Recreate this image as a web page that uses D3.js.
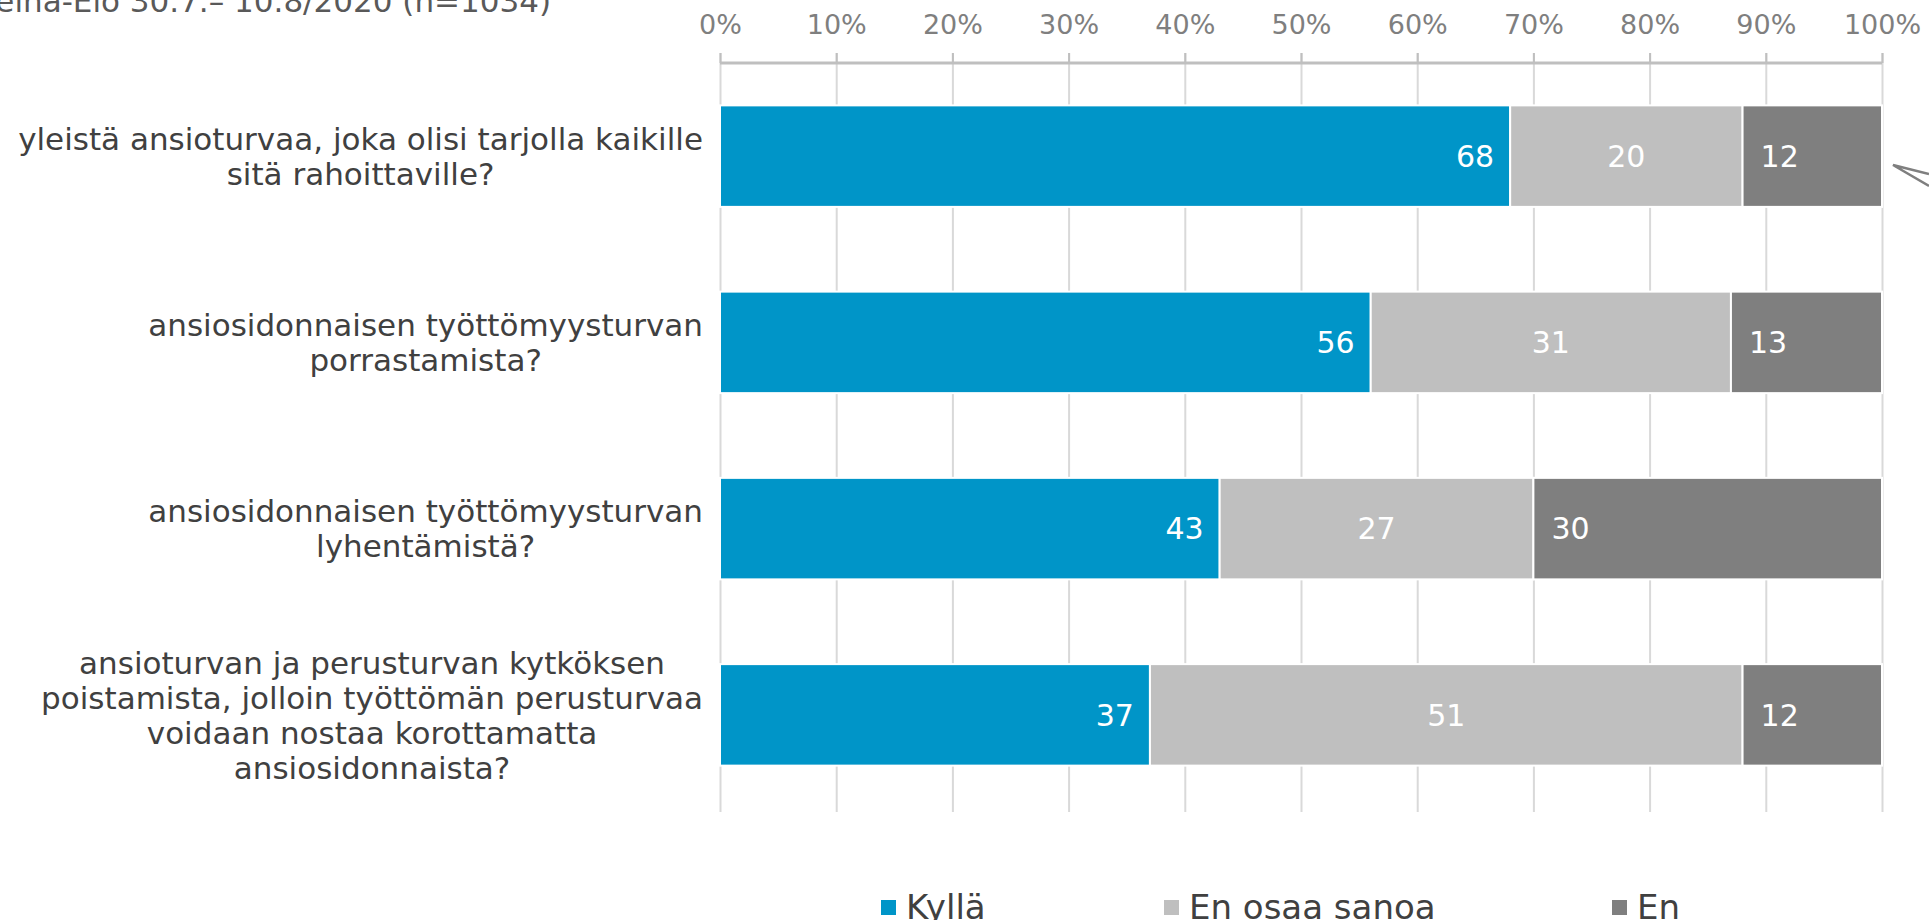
<!DOCTYPE html>
<html>
<head>
<meta charset="utf-8">
<script src="https://cdn.jsdelivr.net/npm/d3@7"></script>
<style>
  html, body { margin: 0; padding: 0; background: #fff; overflow: hidden; }
  svg text { font-family: "DejaVu Sans", Verdana, sans-serif; }
</style>
</head>
<body>
<svg id="chart"></svg>
<script>
// Survey answers, percentages per question
const categories = [
  ['yleistä ansioturvaa, joka olisi tarjolla kaikille', 'sitä rahoittaville?'],
  ['ansiosidonnaisen työttömyysturvan', 'porrastamista?'],
  ['ansiosidonnaisen työttömyysturvan', 'lyhentämistä?'],
  ['ansioturvan ja perusturvan kytköksen', 'poistamista, jolloin työttömän perusturvaa', 'voidaan nostaa korottamatta', 'ansiosidonnaista?']
];
const seriesNames = ['Kyllä', 'En osaa sanoa', 'En'];
const kyllaValues = [68, 56, 43, 37];
const enOsaaValues = [20, 31, 27, 51];
const enValues = [12, 13, 30, 12];
const tickValues = [0, 10, 20, 30, 40, 50, 60, 70, 80, 90, 100];
const subtitle = 'Heinä-Elo 30.7.– 10.8/2020 (n=1034)';

class StackedBarChart {

  constructor(_config) {
    this.config = {
      parentElement: _config.parentElement,
      containerWidth: _config.containerWidth || 1929,
      containerHeight: _config.containerHeight || 920,
      margin: { top: 63, bottom: 112, right: 47, left: 720 }
    };
    this.data = categories.map((c, i) => ({
      idx: i,
      lines: c,
      'Kyllä': kyllaValues[i],
      'En osaa sanoa': enOsaaValues[i],
      'En': enValues[i]
    }));
    this.initVis();
  }

  initVis() {
    let vis = this;

    vis.width = vis.config.containerWidth - vis.config.margin.left - vis.config.margin.right;
    vis.height = vis.config.containerHeight - vis.config.margin.top - vis.config.margin.bottom;

    vis.xScale = d3.scaleLinear()
        .domain([0, 100])
        .range([0, vis.width]);

    vis.yScale = d3.scaleBand()
        .domain(vis.data.map(d => d.idx))
        .range([0, vis.height])
        .paddingInner(0.455)
        .paddingOuter(0.2275);

    vis.color = d3.scaleOrdinal()
        .domain(seriesNames)
        .range(['#0095c8', '#bfbfbf', '#7f7f7f']);

    vis.svg = d3.select(vis.config.parentElement)
        .attr('width', vis.config.containerWidth)
        .attr('height', vis.config.containerHeight);

    vis.chart = vis.svg.append('g')
        .attr('transform', `translate(${vis.config.margin.left},${vis.config.margin.top})`);

    // gridlines
    vis.gridG = vis.chart.append('g')
        .attr('class', 'grid')
        .attr('transform', 'translate(0,-10)');

    // small tick marks above the axis line
    vis.tickG = vis.chart.append('g')
        .attr('class', 'ticks');

    vis.xAxisG = vis.chart.append('g')
        .attr('class', 'axis x-axis')
        .attr('transform', 'translate(0,-26)');

    vis.stack = d3.stack().keys(seriesNames);

    // subtitle, partly cut off at the top
    vis.svg.append('text')
        .attr('x', 551)
        .attr('y', 12)
        .attr('text-anchor', 'end')
        .attr('font-size', 31)
        .attr('fill', '#595959')
        .text(subtitle);

    // callout pointer at the right edge
    vis.svg.append('path')
        .attr('d', 'M1929,174 L1893,165 L1929,186')
        .attr('fill', '#fff')
        .attr('stroke', '#7f7f7f')
        .attr('stroke-width', 2.5);

    // legend
    vis.legendX = [881, 1164, 1612];
    vis.legend = vis.svg.selectAll('.legend')
        .data(seriesNames)
      .join('g')
        .attr('class', 'legend')
        .attr('transform', (d, i) => `translate(${vis.legendX[i]},907)`);
    vis.legend.append('rect')
        .attr('x', 0)
        .attr('y', -7)
        .attr('width', 15)
        .attr('height', 15)
        .attr('fill', d => vis.color(d));
    vis.legend.append('text')
        .attr('x', 25)
        .attr('y', 12)
        .attr('font-size', 34)
        .attr('fill', '#404040')
        .text(d => d);

    vis.updateVis();
  }

  updateVis() {
    let vis = this;
    vis.stackedData = vis.stack(vis.data);
    vis.renderVis();
  }

  renderVis() {
    let vis = this;

    vis.gridG.call(d3.axisBottom(vis.xScale)
        .tickValues(tickValues)
        .tickSize(vis.height + 14)
        .tickFormat(''))
      .call(g => g.select('.domain').remove())
      .call(g => g.selectAll('line').attr('stroke', '#d9d9d9').attr('stroke-width', 2));

    vis.tickG.call(d3.axisTop(vis.xScale)
        .tickValues(tickValues)
        .tickSize(10)
        .tickFormat(''))
      .call(g => g.selectAll('line').attr('stroke', '#bfbfbf').attr('stroke-width', 2))
      .call(g => g.select('.domain').attr('stroke', '#bfbfbf').attr('stroke-width', 3).attr('d', `M0,0H${vis.width}`));

    vis.xAxisG.call(d3.axisTop(vis.xScale)
        .tickValues(tickValues)
        .tickSize(0)
        .tickFormat(d => d + '%'))
      .call(g => g.select('.domain').remove())
      .call(g => g.selectAll('text')
        .attr('font-size', 27)
        .attr('fill', '#7f7f7f')
        .attr('font-family', '"DejaVu Sans", Verdana, sans-serif'));

    // bars
    vis.layers = vis.chart.selectAll('.category')
        .data(vis.stackedData)
      .join('g')
        .attr('class', d => `category`)
        .attr('fill', d => vis.color(d.key));

    vis.layers.selectAll('rect')
        .data(d => d)
      .join('rect')
        .attr('x', d => vis.xScale(d[0]))
        .attr('y', d => vis.yScale(d.data.idx))
        .attr('width', d => vis.xScale(d[1]) - vis.xScale(d[0]))
        .attr('height', vis.yScale.bandwidth())
        .attr('stroke', '#fff')
        .attr('stroke-width', 2);

    // value labels
    vis.layers.each(function(layer) {
      d3.select(this).selectAll('text')
          .data(layer)
        .join('text')
          .attr('x', d => {
            if (layer.key === 'Kyllä') return vis.xScale(d[1]) - 16;
            if (layer.key === 'En') return vis.xScale(d[0]) + 18;
            return (vis.xScale(d[0]) + vis.xScale(d[1])) / 2;
          })
          .attr('y', d => vis.yScale(d.data.idx) + vis.yScale.bandwidth() / 2)
          .attr('dy', '0.36em')
          .attr('text-anchor', layer.key === 'Kyllä' ? 'end' : (layer.key === 'En' ? 'start' : 'middle'))
          .attr('font-size', 30)
          .attr('fill', '#fff')
          .text(d => d[1] - d[0]);
    });

    // category labels, wrapped lines centred in a right aligned block
    const lineH = 35;
    vis.labels = vis.svg.selectAll('.cat-label')
        .data(vis.data)
      .join('text')
        .attr('class', 'cat-label')
        .attr('font-size', 31)
        .attr('fill', '#404040')
        .attr('text-anchor', 'middle');

    vis.labels.each(function(d) {
      const t = d3.select(this);
      const cy = vis.config.margin.top + vis.yScale(d.idx) + vis.yScale.bandwidth() / 2;
      const n = d.lines.length;
      t.selectAll('tspan')
          .data(d.lines)
        .join('tspan')
          .attr('y', (l, i) => cy + (i - (n - 1) / 2) * lineH)
          .attr('dy', '0.36em')
          .text(l => l);
      let maxW = 0;
      t.selectAll('tspan').each(function() {
        maxW = Math.max(maxW, this.getComputedTextLength());
      });
      t.selectAll('tspan').attr('x', 703 - maxW / 2);
    });
  }
}

new StackedBarChart({ parentElement: '#chart' });
</script>
</body>
</html>
